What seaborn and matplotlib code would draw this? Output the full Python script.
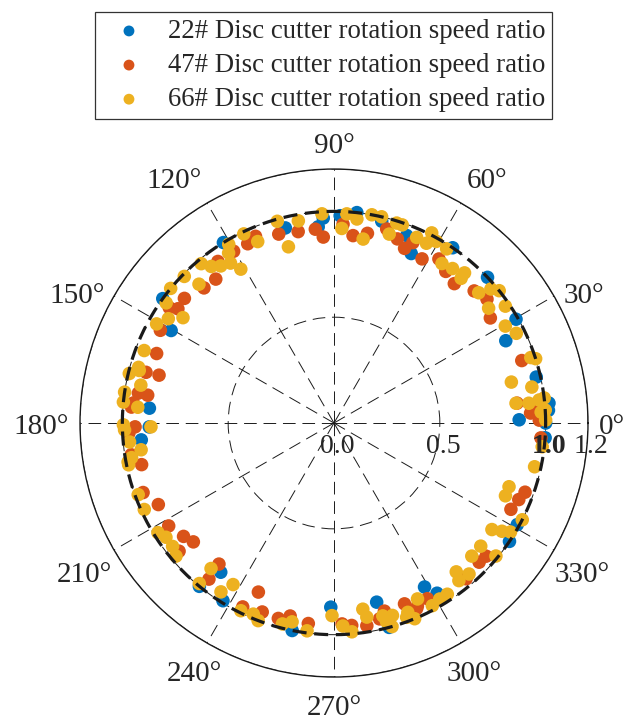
import numpy as np
import pandas as pd
import matplotlib
matplotlib.use("Agg")
import matplotlib.pyplot as plt
import seaborn as sns
from matplotlib.transforms import ScaledTranslation

# ---------------- data ----------------
series_names = ["22# Disc cutter rotation speed ratio",
                "47# Disc cutter rotation speed ratio",
                "66# Disc cutter rotation speed ratio"]
series_colors = ["#0072BD", "#D95319", "#EDB120"]

blue_theta = [5.3, 1.0, 3.4, -4.0, 0.0, 12.8, 25.6, 29.7, 43.5, 55.9,
              65.5, 68.8, 76.7, 83.8, 88.3, 93.0, 94.6, 104.0, 121.5, 144.0,
              150.4, 175.4, 181.2, 185.0, 230.5, 232.8, 238.0, 258.6, 269.0, 283.4,
              285.1, 298.9, 301.2, 326.0, 331.0]
blue_r = [1.02, 0.875, 1.015, 1.0, 1.0, 0.98, 0.90, 0.99, 1.0, 1.0,
          0.88, 0.95, 0.98, 1.0, 0.98, 0.97, 0.93, 0.95, 1.0, 1.0,
          0.885, 0.875, 0.873, 0.914, 1.0, 0.885, 0.99, 1.0, 0.87, 0.87,
          1.0, 0.885, 0.94, 1.0, 0.99]

orange_theta = [0.8, 3.7, 6.2, 2.9, -4.1, 18.4, 33.9, 39.0, 43.3, 49.2,
                53.6, 57.4, 61.8, 66.4, 68.0, 71.0, 74.8, 80.0, 84.2, 87.4,
                93.3, 95.5, 100.6, 106.3, 112.8, 115.7, 120.3, 125.7, 129.4, 133.9,
                140.2, 143.8, 145.0, 151.9, 158.6, 164.9, 164.7, 171.5, 171.3, 174.3,
                175.5, 181.1, 182.8, 188.9, 192.2, 200.0, 204.9, 211.9, 217.0, 220.2,
                219.6, 230.8, 231.3, 243.6, 245.9, 249.2, 254.1, 257.2, 262.7, 272.3,
                275.0, 279.2, 283.1, 285.0, 291.3, 294.5, 298.0, 294.0, 310.3, 316.2,
                318.8, 334.0, 337.5, 340.1]
orange_r = [0.97, 0.94, 0.87, 0.93, 0.98, 0.935, 0.89, 0.93, 0.91, 0.87,
            0.89, 0.92, 0.88, 0.93, 0.89, 0.92, 0.95, 0.91, 0.89, 0.94,
            0.88, 0.92, 0.92, 0.93, 0.957, 0.94, 0.94, 0.94, 0.88, 0.886,
            0.92, 0.914, 0.95, 0.93, 0.90, 0.92, 0.857, 0.89, 0.935, 0.953,
            0.96, 0.94, 0.97, 0.97, 0.93, 0.96, 0.915, 0.92, 0.89, 0.87,
            0.95, 0.86, 0.945, 0.97, 0.875, 0.955, 0.96, 0.935, 0.955, 0.95,
            0.96, 0.97, 0.95, 0.92, 0.917, 0.95, 0.94, 0.96, 0.965, 0.95,
            0.955, 0.93, 0.945, 0.96]

yellow_theta = [0.8, 3.0, 3.5, 6.4, 6.8, 5.8, 6.2, 10.3, 13.0, 18.4,
                17.7, 26.2, 29.5, 34.3, 36.6, 38.7, 40.5, 42.0, 48.7, 49.0,
                52.5, 55.9, 57.1, 60.6, 62.8, 62.8, 66.0, 71.0, 72.6, 73.7,
                77.0, 79.7, 81.0, 83.6, 86.5, 87.7, 93.3, 100.0, 104.5, 105.7,
                112.8, 115.5, 120.5, 121.8, 122.9, 121.2, 125.8, 128.1, 129.8, 135.6,
                134.2, 140.5, 144.4, 145.1, 147.8, 150.8, 159.1, 164.1, 166.4, 164.9,
                168.9, 171.6, 174.3, 175.4, 181.2, 181.9, 180.5, 185.3, 187.9, 189.7,
                190.7, 191.5, 200.1, 204.5, 211.9, 214.2, 217.4, 220.1, 229.8, 230.0,
                238.0, 236.2, 243.6, 247.1, 249.0, 255.6, 258.1, 262.6, 269.4, 272.5,
                274.9, 278.8, 279.6, 284.2, 286.9, 285.9, 284.8, 290.5, 292.4, 291.3,
                295.4, 298.3, 301.0, 303.5, 309.4, 308.4, 311.8, 316.0, 320.0, 320.6,
                326.0, 327.2, 328.3, 332.8, 337.0, 340.0, 347.7, 353.5]
yellow_r = [1.0, 0.98, 1.0, 0.975, 1.0, 0.925, 0.865, 0.95, 0.86, 0.98,
            1.0, 0.96, 0.93, 0.98, 0.91, 1.0, 0.975, 0.92, 0.91, 0.94,
            0.92, 0.91, 0.98, 0.985, 1.01, 0.955, 0.96, 0.99, 0.99, 0.93,
            1.0, 1.0, 0.88, 0.97, 0.99, 0.92, 0.99, 0.97, 0.86, 0.99,
            0.93, 0.99, 0.98, 0.945, 0.90, 0.85, 0.915, 0.94, 0.98, 0.99,
            0.915, 1.0, 0.975, 0.87, 0.925, 0.96, 0.96, 0.96, 0.995, 0.953,
            0.93, 1.0, 1.0, 0.93, 0.865, 0.99, 0.995, 0.97, 0.92, 0.97,
            0.99, 0.99, 0.985, 0.985, 0.98, 0.96, 0.96, 0.976, 0.90, 0.99,
            0.90, 0.96, 0.99, 0.98, 1.0, 0.98, 0.96, 0.99, 0.91, 0.96,
            0.99, 0.89, 0.93, 0.94, 0.95, 1.0, 0.97, 0.98, 1.0, 0.96,
            0.92, 0.98, 0.97, 0.97, 0.91, 0.95, 0.957, 0.905, 0.905, 0.99,
            0.90, 0.944, 0.98, 1.0, 0.88, 0.88, 0.97, 0.99]

ref_r = 1.0
rtick_vals = [0.0, 0.5, 1.0, 1.2]
rtick_labels = ["0.0", "0.5", "1.0", "1.2"]
theta_ticks = [0, 30, 60, 90, 120, 150, 180, 210, 240, 270, 300, 330]
theta_labels = [f"{t}\u00b0" for t in theta_ticks]

# ---------------- build table ----------------
frames = []
for name, th, rr in zip(series_names,
                        [blue_theta, orange_theta, yellow_theta],
                        [blue_r, orange_r, yellow_r]):
    frames.append(pd.DataFrame({"theta": np.deg2rad(th), "r": rr, "series": name}))
df = pd.concat(frames, ignore_index=True)

# ---------------- style ----------------
sns.set_theme(style="white")
plt.rcParams["font.family"] = ["Liberation Serif", "DejaVu Serif"]

fig = plt.figure(figsize=(6.25, 7.23), dpi=100)
ax = fig.add_axes([0.128, 0.0636, 0.8128, 0.7026], projection="polar")

for name, color in zip(series_names, series_colors):
    sub = df[df["series"] == name]
    sns.scatterplot(data=sub, x="theta", y="r", ax=ax, color=color, s=95,
                    linewidth=0, edgecolor="none", label=name, zorder=3)

circ = np.linspace(0, 2 * np.pi, 721)
ax.plot(circ, np.full_like(circ, ref_r), color="k", lw=2.3,
        linestyle=(0, (4.4, 2.4)), zorder=4)

ax.set_ylim(0, 1.2)
ax.set_rticks(rtick_vals)
ax.set_yticklabels([])
ax.set_xticks(np.deg2rad(theta_ticks))
ax.set_xticklabels(theta_labels, fontsize=21)
ax.tick_params(axis="x", pad=-5)
ax.set_xlabel("")
ax.set_ylabel("")
ax.grid(True, color="k", lw=0.7, linestyle=(0, (13, 7)))
ax.spines["polar"].set_color("k")
ax.spines["polar"].set_linewidth(1.0)

# MATLAB-like anchoring of angle labels: (ha, va, dx px, dy px)
label_style = {
    0: ("left", "center", 0, -4), 30: ("left", "center", 0, -6),
    60: ("left", "bottom", 0, -1), 90: ("center", "bottom", 0, -1),
    120: ("right", "bottom", 0, -1), 150: ("right", "center", 0, -6),
    180: ("right", "center", 0, -4), 210: ("right", "top", 8, -6),
    240: ("center", "top", -7, -8), 270: ("center", "top", 0, -7),
    300: ("center", "top", 8, -8), 330: ("left", "top", -9, -6),
}
for t, lab in zip(theta_ticks, ax.get_xticklabels()):
    ha, va, dx, dy = label_style[t]
    lab.set_ha(ha)
    lab.set_va(va)
    lab.set_transform(lab.get_transform() +
                      ScaledTranslation(dx / 100, dy / 100, fig.dpi_scale_trans))

off = ScaledTranslation(3 / 100, -23 / 100, fig.dpi_scale_trans)
for v, lab in zip(rtick_vals, rtick_labels):
    ax.text(0, v, lab, transform=ax.transData + off, ha="center", va="center",
            fontsize=20, fontweight="bold" if lab == "1.0" else "normal", zorder=6)

handles, labels = ax.get_legend_handles_labels()
if ax.get_legend() is not None:
    ax.get_legend().remove()
leg = fig.legend(handles, labels, loc="upper center", bbox_to_anchor=(0.518, 0.983),
                 fontsize=19.3, frameon=True, fancybox=False, edgecolor="#333333",
                 borderpad=0.25, handlelength=2.0, handletextpad=0.45,
                 labelspacing=0.34, borderaxespad=0, markerscale=0.8)
leg.get_frame().set_linewidth(0.9)
leg.get_frame().set_alpha(1)

fig.savefig("out.png", dpi=100)
